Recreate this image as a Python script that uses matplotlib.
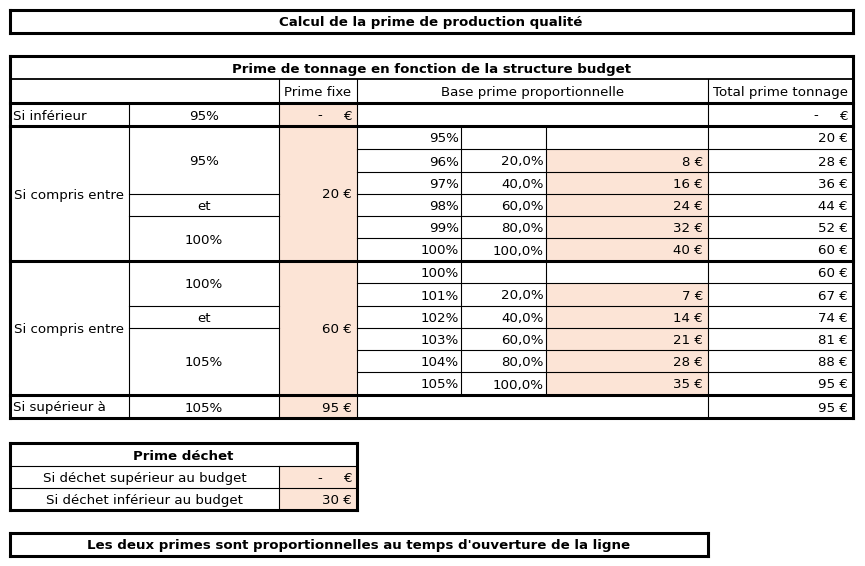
import matplotlib.pyplot as plt
from matplotlib.patches import Rectangle

plt.rcParams['font.family'] = ['Liberation Sans Narrow', 'DejaVu Sans']

# --- data read from the sheet ---
titre = 'Calcul de la prime de production qualité'
titre_tableau = 'Prime de tonnage en fonction de la structure budget'
entetes = ['Prime fixe', 'Base prime proportionnelle', 'Total prime tonnage']
seuil_bas = 95
seuil_haut = 105
prime_fixe = [0, 20, 60, 95]

niveaux_1 = [95, 96, 97, 98, 99, 100]
taux_1 = [None, 20, 40, 60, 80, 100]
montant_1 = [None, 8, 16, 24, 32, 40]
total_1 = [20, 28, 36, 44, 52, 60]

niveaux_2 = [100, 101, 102, 103, 104, 105]
taux_2 = [None, 20, 40, 60, 80, 100]
montant_2 = [None, 7, 14, 21, 28, 35]
total_2 = [60, 67, 74, 81, 88, 95]

bornes_1 = [95, 100]
bornes_2 = [100, 105]

dechet_titre = 'Prime déchet'
dechet_labels = ['Si déchet supérieur au budget', 'Si déchet inférieur au budget']
dechet_valeurs = [0, 30]

note = "Les deux primes sont proportionnelles au temps d'ouverture de la ligne"

PEACH = '#FCE4D6'
FS = 9.6
THIN = 0.8
THICK = 2.2

fig = plt.figure(figsize=(8.65, 5.66), dpi=100)
ax = fig.add_axes([0, 0, 1, 1])
ax.set_xlim(0, 865)
ax.set_ylim(566, 0)
ax.axis('off')


def hline(y, x0, x1, lw=THIN):
    ax.plot([x0, x1], [y, y], color='black', lw=lw, solid_capstyle='projecting')


def vline(x, y0, y1, lw=THIN):
    ax.plot([x, x], [y0, y1], color='black', lw=lw, solid_capstyle='projecting')


def fill(x0, y0, x1, y1):
    ax.add_patch(Rectangle((x0, y0), x1 - x0, y1 - y0, color=PEACH, lw=0, zorder=0))


def txt(x, y, s, ha='center', bold=False):
    ax.text(x, y + 1.5, s, ha=ha, va='center', fontsize=FS,
            fontweight='bold' if bold else 'normal')


def euro(x1, y, v):
    # accounting format, right side of the cell
    if v:
        txt(x1 - 5, y, f'{v} €', ha='right')
    else:
        txt(x1 - 5, y, '€', ha='right')
        txt(x1 - 35, y, '-', ha='right')


def pct(v, dec=False):
    return f'{v:.1f}%'.replace('.', ',') if dec else f'{v}%'


# columns
c = [10, 129, 279, 357, 461, 546, 708, 853]

# title box
hline(10, 10, 853, THICK)
hline(33, 10, 853, THICK)
vline(10, 10, 33, THICK)
vline(853, 10, 33, THICK)
txt(431, 21, titre, bold=True)

# main table rows
y_top, y_h1, y_h2, y_inf = 56, 79, 103, 126
rows1 = [126, 149, 172, 194, 216, 238, 261]
rows2 = [261, 283, 306, 328, 350, 372, 395]
y_sup = 418

# fills
fill(c[2], y_h2, c[3], y_sup)
fill(c[5], rows1[1], c[6], rows1[-1])
fill(c[5], rows2[1], c[6], rows2[-1])

txt(431, (y_top + y_h1) / 2, titre_tableau, bold=True)
txt((c[2] + c[3]) / 2, (y_h1 + y_h2) / 2, entetes[0])
txt((c[3] + c[6]) / 2, (y_h1 + y_h2) / 2, entetes[1])
txt((c[6] + c[7]) / 2, (y_h1 + y_h2) / 2, entetes[2])
hline(y_h1, c[0], c[7], 1.3)
for x in (c[2], c[3], c[6]):
    vline(x, y_h1, y_h2)

# si inferieur
ym = (y_h2 + y_inf) / 2
txt(c[0] + 3, ym, 'Si inférieur', ha='left')
txt((c[1] + c[2]) / 2, ym, pct(seuil_bas))
euro(c[3], ym, prime_fixe[0])
euro(c[7], ym, 0)
for x in (c[1], c[2], c[3], c[6]):
    vline(x, y_h2, y_inf)


def bloc(rows, niveaux, taux, montant, total, bornes, fixe, yb1, yb2):
    y0, y1 = rows[0], rows[-1]
    txt((c[0] + c[1]) / 2, (y0 + y1) / 2, 'Si compris entre')
    txt((c[1] + c[2]) / 2, (y0 + yb1) / 2, pct(bornes[0]))
    txt((c[1] + c[2]) / 2, (yb1 + yb2) / 2, 'et')
    txt((c[1] + c[2]) / 2, (yb2 + y1) / 2, pct(bornes[1]))
    hline(yb1, c[1], c[2])
    hline(yb2, c[1], c[2])
    euro(c[3], (y0 + y1) / 2, fixe)
    for i in range(6):
        ya, yb = rows[i], rows[i + 1]
        yc = (ya + yb) / 2
        txt(c[4] - 2, yc, pct(niveaux[i]), ha='right')
        if taux[i] is not None:
            txt(c[5] - 2, yc, pct(taux[i], True), ha='right')
        if montant[i] is not None:
            euro(c[6], yc, montant[i])
        euro(c[7], yc, total[i])
        if i > 0:
            hline(ya, c[3], c[7])
    for x in (c[1], c[2], c[3], c[4], c[5], c[6]):
        vline(x, y0, y1)


bloc(rows1, niveaux_1, taux_1, montant_1, total_1, bornes_1, prime_fixe[1], 194, 216)
bloc(rows2, niveaux_2, taux_2, montant_2, total_2, bornes_2, prime_fixe[2], 306, 328)

# si superieur
ym = (rows2[-1] + y_sup) / 2
txt(c[0] + 3, ym, 'Si supérieur à', ha='left')
txt((c[1] + c[2]) / 2, ym, pct(seuil_haut))
euro(c[3], ym, prime_fixe[3])
euro(c[7], ym, prime_fixe[3])
for x in (c[1], c[2], c[3], c[6]):
    vline(x, rows2[-1], y_sup)

# thick borders of main table
for y in (y_top, y_h2, y_inf, rows1[-1], rows2[-1], y_sup):
    hline(y, c[0], c[7], THICK)
vline(c[0], y_top, y_sup, THICK)
vline(c[7], y_top, y_sup, THICK)

# prime dechet
d = [443, 466, 488, 510]
fill(c[2], d[1], c[3], d[3])
txt((c[0] + c[3]) / 2, (d[0] + d[1]) / 2, dechet_titre, bold=True)
for i in range(2):
    yc = (d[i + 1] + d[i + 2]) / 2
    txt((c[0] + c[2]) / 2, yc, dechet_labels[i])
    euro(c[3], yc, dechet_valeurs[i])
hline(d[1], c[0], c[3])
hline(d[2], c[0], c[3])
vline(c[2], d[1], d[3])
hline(d[0], c[0], c[3], THICK)
hline(d[3], c[0], c[3], THICK)
vline(c[0], d[0], d[3], THICK)
vline(c[3], d[0], d[3], THICK)

# note
hline(533, c[0], c[6], THICK)
hline(556, c[0], c[6], THICK)
vline(c[0], 533, 556, THICK)
vline(c[6], 533, 556, THICK)
txt((c[0] + c[6]) / 2, 544.5, note, bold=True)

fig.savefig('out.png', dpi=100)
